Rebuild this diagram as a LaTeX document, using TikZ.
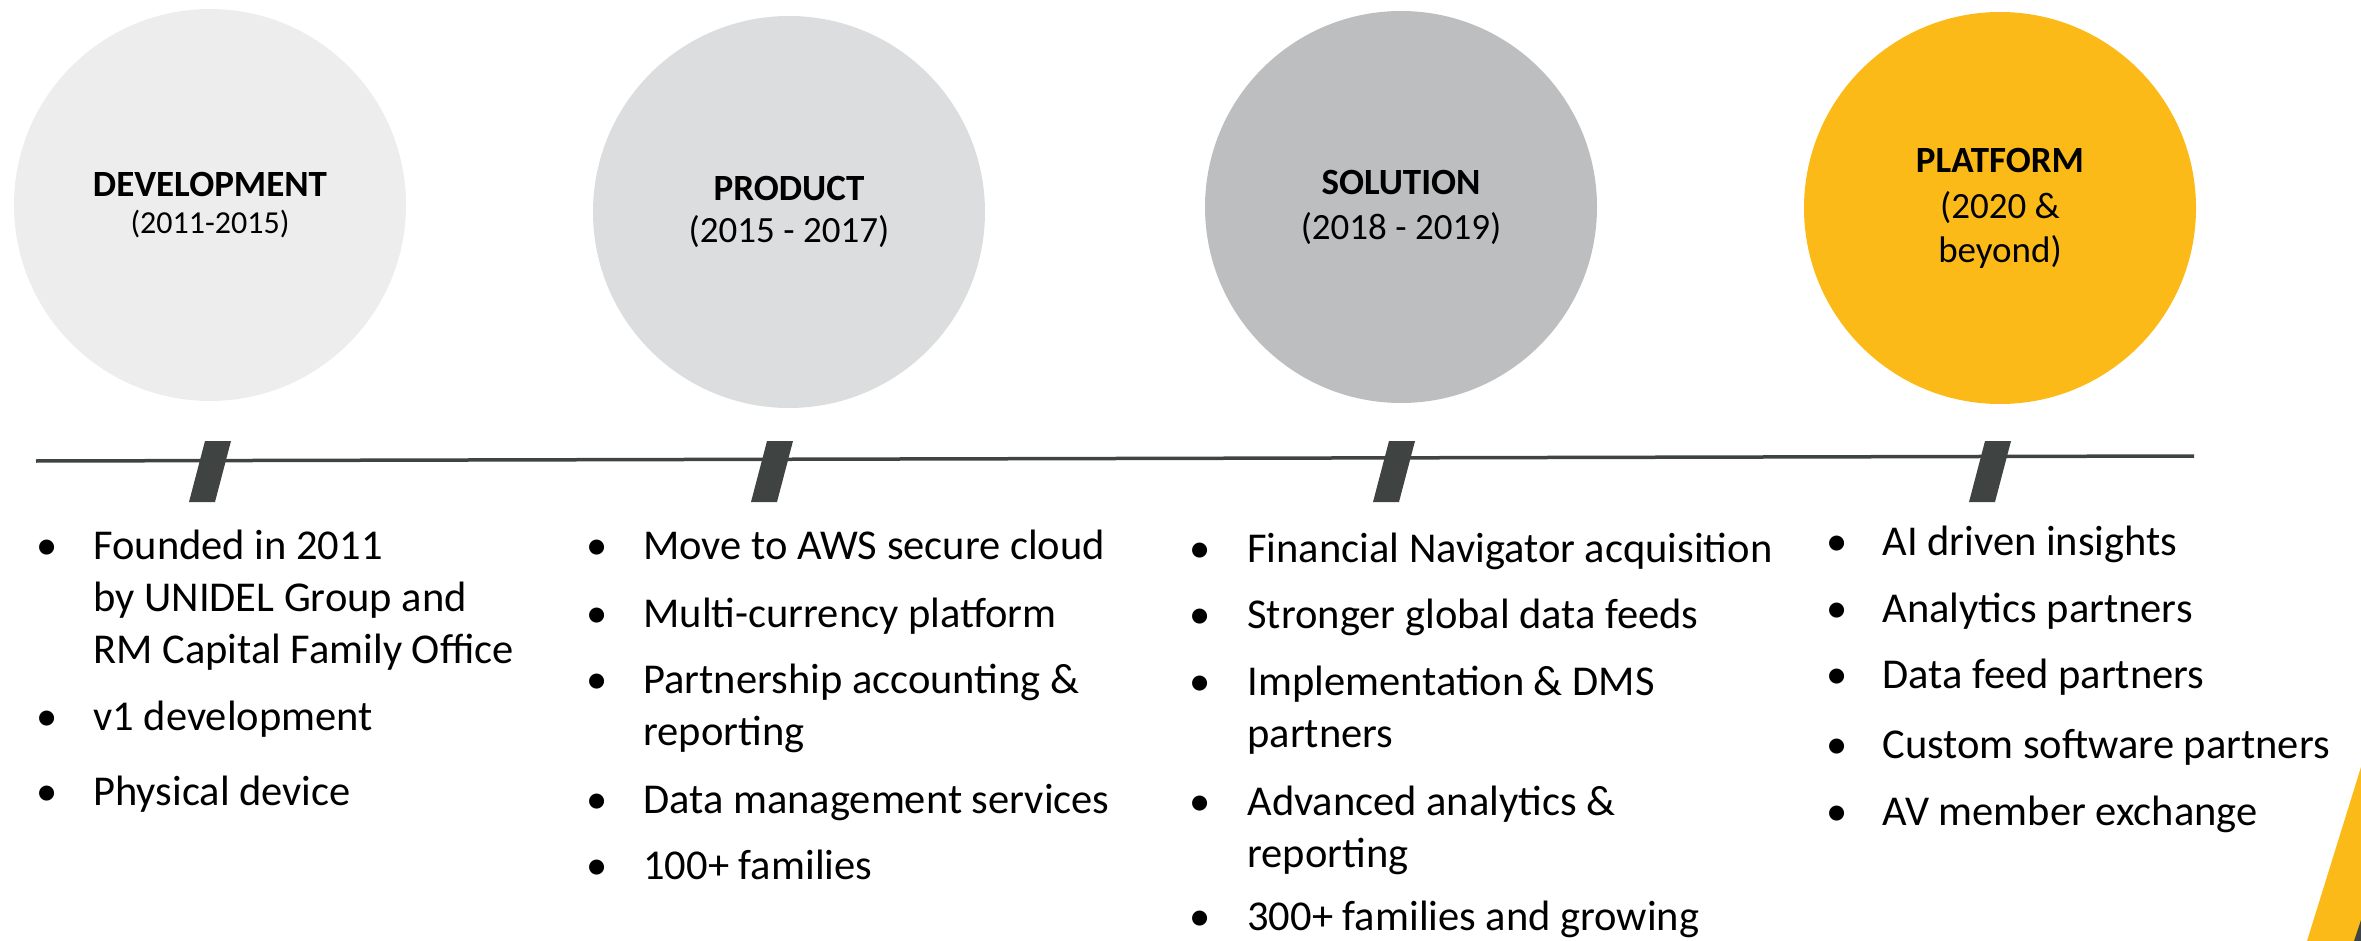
\documentclass[tikz,border=0pt]{standalone}
\usepackage{fontspec}
\setmainfont{Carlito}
\usetikzlibrary{positioning}

\definecolor{devgray}{HTML}{EDEDED}
\definecolor{prodgray}{HTML}{DCDDDE}
\definecolor{solgray}{HTML}{BDBEC0}
\definecolor{platyellow}{HTML}{FBBA17}
\definecolor{linegray}{HTML}{3F4443}

\begin{document}
\begin{tikzpicture}[x=0.5pt,y=-0.5pt,
	phase/.style={circle, minimum size=196pt, inner sep=0pt, align=center,
		font=\fontsize{18.5}{21}\selectfont},
	item/.style={anchor=base west, align=left, inner sep=0pt,
		font=\fontsize{21.25}{26}\selectfont},
	dot/.style={anchor=base, inner sep=0pt, font=\fontsize{21.25}{26}\selectfont}]
	\useasboundingbox (0,0) rectangle (2361,941);
	
	% phases
	\node[phase, fill=devgray] (dev) at (210,205)
		{\textbf{DEVELOPMENT}\\[-2.5pt]{\fontsize{16}{18}\selectfont(2011-2015)}};
	\node[phase, fill=prodgray] (prod) at (789,212)
		{\textbf{PRODUCT}\\(2015 - 2017)};
	\node[phase, fill=solgray] (sol) at (1401,207)
		{\textbf{SOLUTION}\\[1.5pt](2018 - 2019)};
	\node[phase, fill=platyellow] (plat) at (2000,208)
		{\textbf{PLATFORM}\\[2pt](2020 \&\\[1pt]beyond)};
	
	% timeline
	\coordinate (tl-start) at (36,461);
	\coordinate (tl-end) at (2194,456);
	\draw[linegray, line width=1.75pt] (tl-start) -- (tl-end);
	\foreach \x in {205,767,1389,1985}
		\fill[linegray] (\x,441) -- ++(26,0) -- ++(-16,61) -- ++(-26,0) -- cycle;
	
	% corner
	\fill[platyellow] (2361,767) -- (2307,941) -- (2361,941) -- cycle;
	\fill[linegray] (2361,920) -- (2354,941) -- (2361,941) -- cycle;
	
	% lists (\k = extra lines, the node's base is its last line)
	\foreach \y/\k/\txt [count=\i] in {559/2/{Founded in 2011\\by UNIDEL Group and\\RM Capital Family Office},
		730/0/{v1 development}, 805/0/{Physical device}}{
		\node[dot] (dev-dot-\i) at (47,\y) {•};
		\node[item] (dev-item-\i) at (93,\y+52*\k) {\txt};
	}
	\foreach \y/\k/\txt [count=\i] in {559/0/{Move to AWS secure cloud}, 627/0/{Multi-currency platform},
		693/1/{Partnership accounting \&\\reporting}, 813/0/{Data management services}, 879/0/{100+ families}}{
		\node[dot] (prod-dot-\i) at (597,\y) {•};
		\node[item] (prod-item-\i) at (643,\y+52*\k) {\txt};
	}
	\foreach \y/\k/\txt [count=\i] in {562/0/{Financial Navigator acquisition}, 628/0/{Stronger global data feeds},
		695/1/{Implementation \& DMS\\partners}, 815/1/{Advanced analytics \&\\reporting},
		930/0/{300+ families and growing}}{
		\node[dot] (sol-dot-\i) at (1200,\y) {•};
		\node[item] (sol-item-\i) at (1247,\y+52*\k) {\txt};
	}
	\foreach \y/\k/\txt [count=\i] in {555/0/{AI driven insights}, 622/0/{Analytics partners},
		688/0/{Data feed partners}, 758/0/{Custom software partners}, 825/0/{AV member exchange}}{
		\node[dot] (plat-dot-\i) at (1837,\y) {•};
		\node[item] (plat-item-\i) at (1882,\y+52*\k) {\txt};
	}
\end{tikzpicture}
\end{document}
